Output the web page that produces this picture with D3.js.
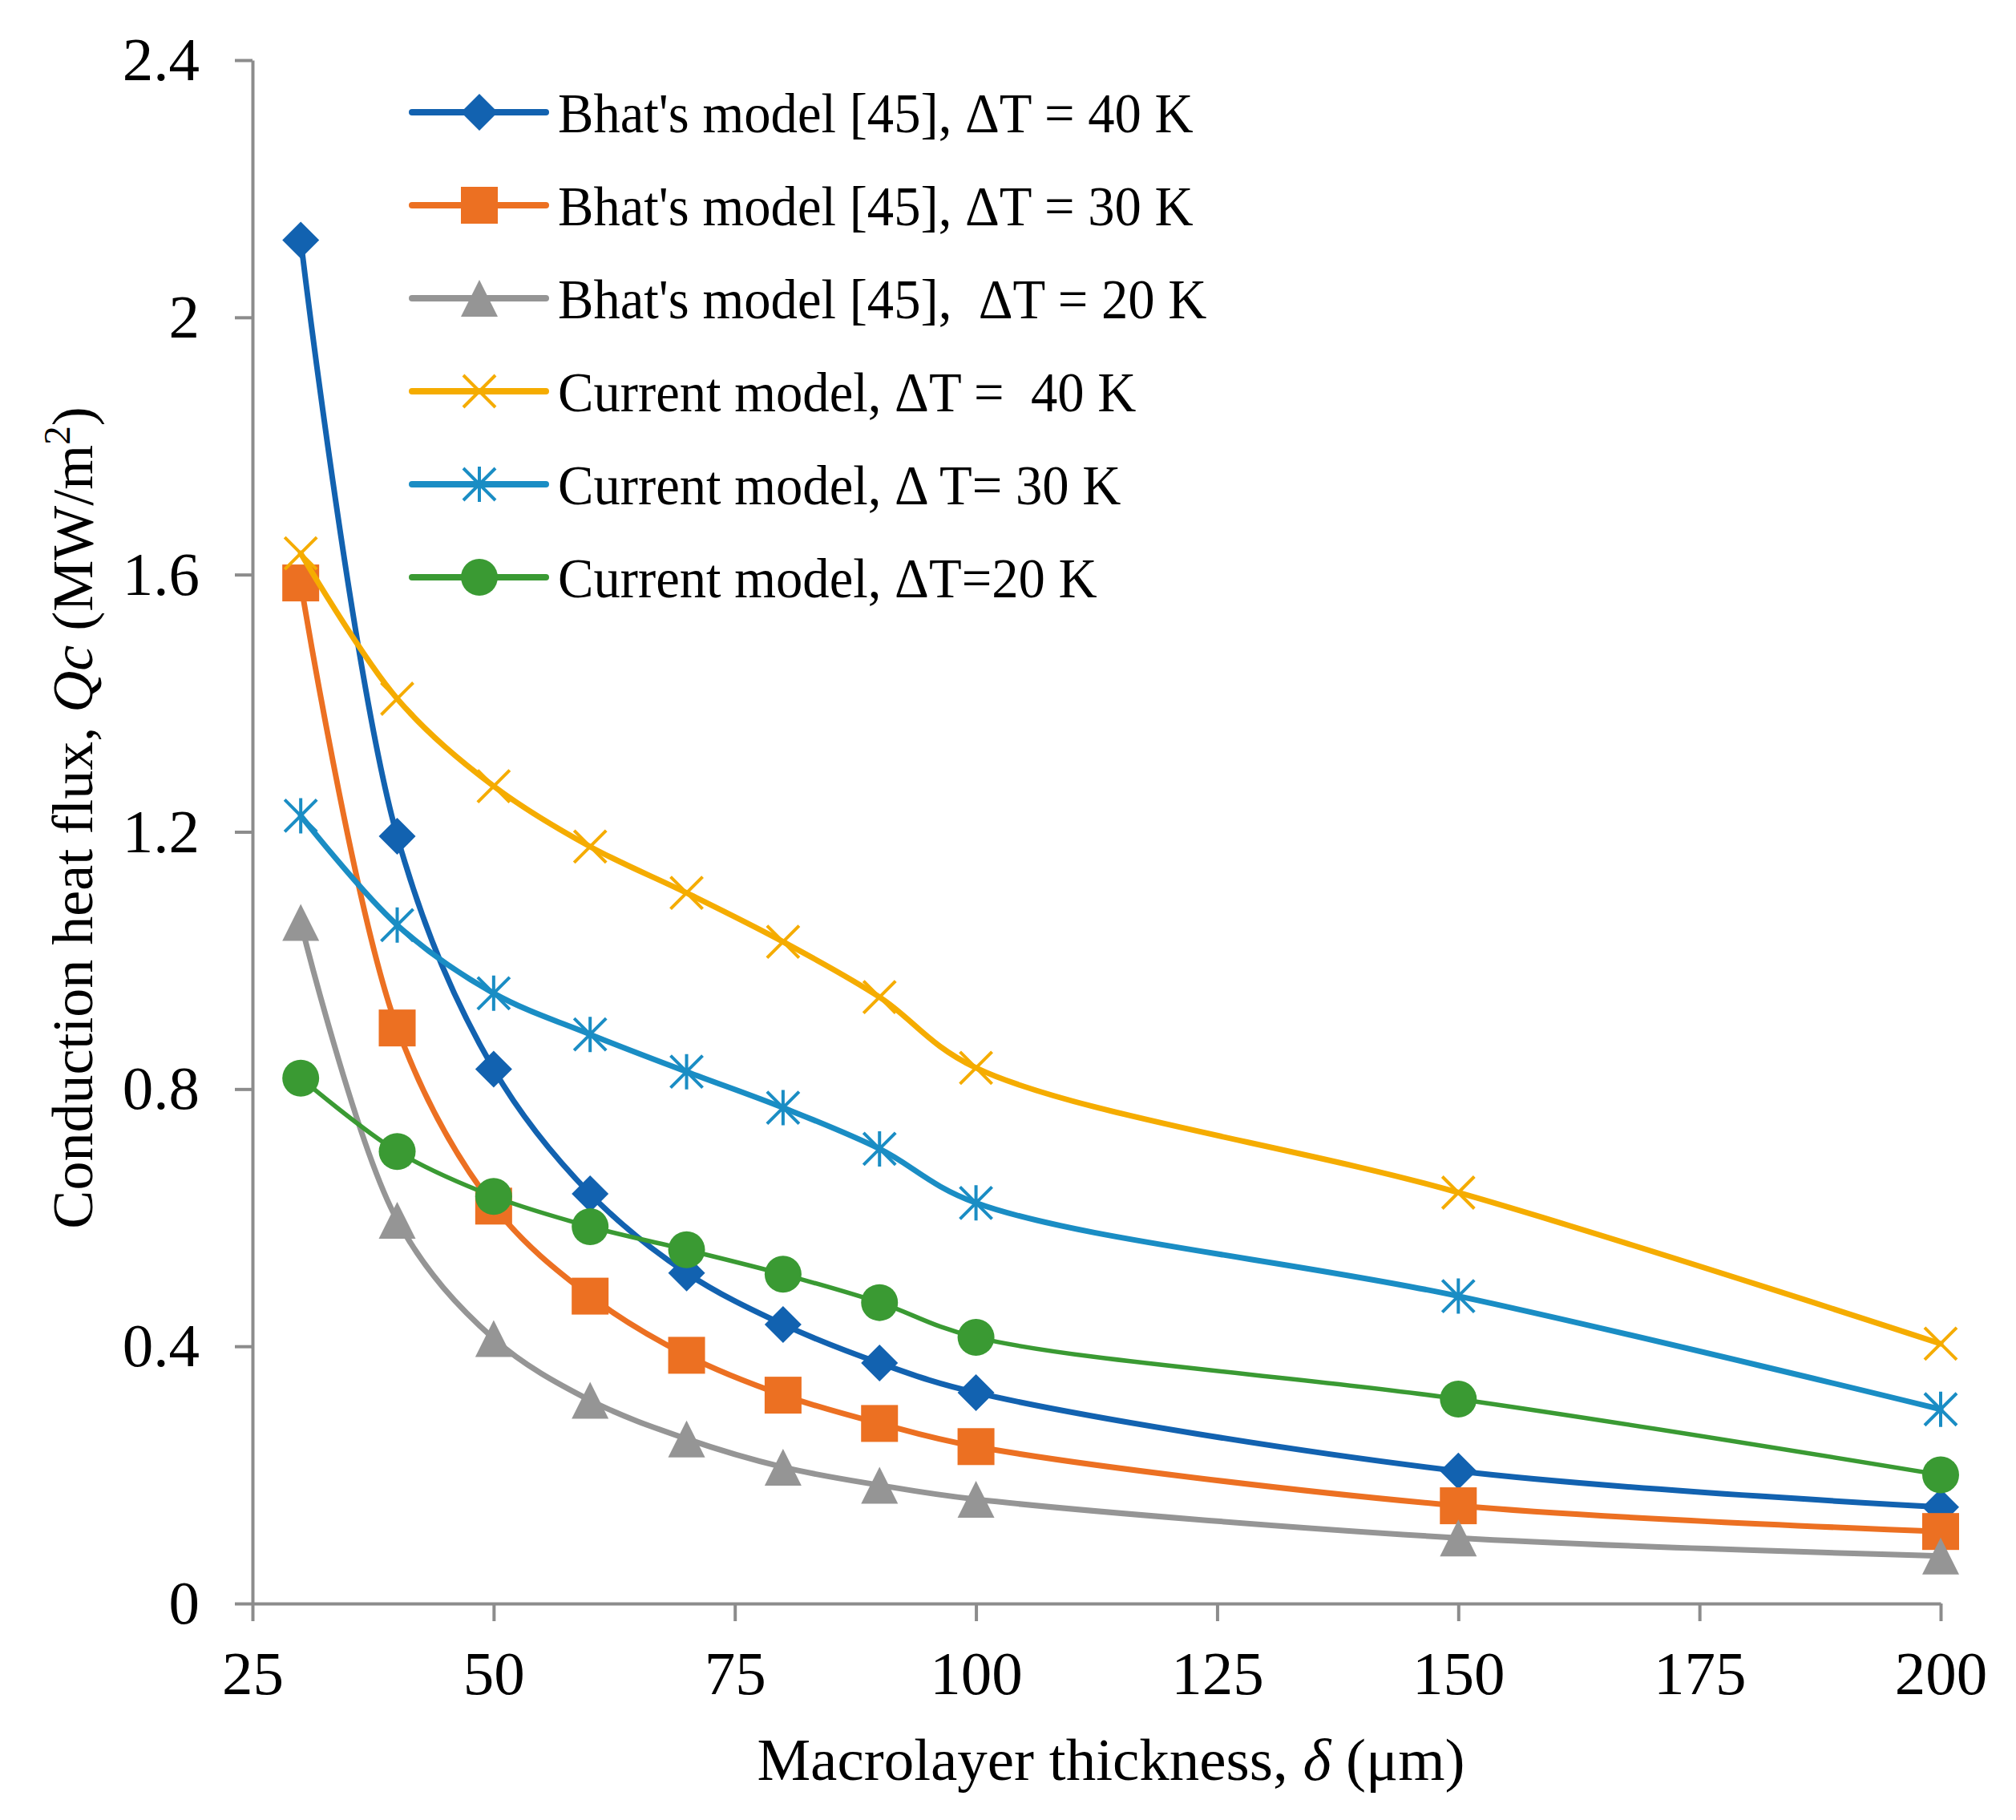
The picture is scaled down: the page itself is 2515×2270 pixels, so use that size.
<!DOCTYPE html>
<html>
<head>
<meta charset="utf-8">
<script src="https://cdn.jsdelivr.net/npm/d3@7"></script>
<style>
  body { margin: 0; background: #fff; }
  text { font-family: "Liberation Serif", "Times New Roman", serif; fill: #000; }
</style>
</head>
<body>
<div id="chart"></div>
<script>
// macrolayer thickness (um)
const thickness = [30, 40, 50, 60, 70, 80, 90, 100, 150, 200];

// conduction heat flux (MW/m2)
const bhat40 = [2.12, 1.193, 0.831, 0.637, 0.514, 0.434, 0.374, 0.328, 0.206, 0.150];
const bhat30 = [1.587, 0.895, 0.618, 0.478, 0.386, 0.324, 0.280, 0.244, 0.152, 0.112];
const bhat20 = [1.059, 0.596, 0.412, 0.316, 0.256, 0.212, 0.184, 0.162, 0.102, 0.074];
const curr40 = [1.633, 1.407, 1.271, 1.177, 1.105, 1.029, 0.943, 0.833, 0.639, 0.404];
const curr30 = [1.225, 1.055, 0.949, 0.885, 0.827, 0.771, 0.707, 0.623, 0.478, 0.302];
const curr20 = [0.817, 0.703, 0.633, 0.586, 0.550, 0.512, 0.468, 0.414, 0.318, 0.200];

const seriesNames = [
  "Bhat's model [45], \u0394T = 40 K",
  "Bhat's model [45], \u0394T = 30 K",
  "Bhat's model [45],  \u0394T = 20 K",
  "Current model, \u0394T =  40 K",
  "Current model, \u0394 T= 30 K",
  "Current model, \u0394T=20 K"
];
const seriesValues = [bhat40, bhat30, bhat20, curr40, curr30, curr20];
const seriesColors = ["#1262b0", "#ec7022", "#959595", "#f5ac00", "#1a8dc4", "#3a9a33"];
const seriesMarkers = ["diamond", "square", "triangle", "x", "asterisk", "circle"];
const seriesWidths = [7, 7, 7, 7, 7, 5.5];

const xTicks = [25, 50, 75, 100, 125, 150, 175, 200];
const yTicks = [0, 0.4, 0.8, 1.2, 1.6, 2, 2.4];

const width = 2515;
const height = 2270;
const margin = {left: 315, right: 94, top: 75, bottom: 270};

const svg = d3.select("#chart")
  .append("svg")
  .attr("width", width)
  .attr("height", height)
  .attr("viewBox", [0, 0, width, height]);

const x = d3.scaleLinear()
  .domain([25, 200])
  .range([margin.left, width - margin.right]);

const y = d3.scaleLinear()
  .domain([0, 2.4])
  .range([height - margin.bottom, margin.top]);

const axisColor = "#8c8c8c";

// axes
const xAxis = svg.append("g")
  .attr("transform", `translate(0,${y(0)})`)
  .call(d3.axisBottom(x).tickValues(xTicks).tickSize(22).tickSizeOuter(0).tickPadding(36));

const yAxis = svg.append("g")
  .attr("transform", `translate(${x(25)},0)`)
  .call(d3.axisLeft(y).tickValues(yTicks).tickSize(22).tickSizeOuter(0).tickPadding(44)
    .tickFormat(d => d3.format("")(+d.toFixed(1))));

[xAxis, yAxis].forEach(a => {
  a.select(".domain").attr("stroke", axisColor).attr("stroke-width", 4);
  a.selectAll(".tick line").attr("stroke", axisColor).attr("stroke-width", 4);
  a.selectAll(".tick text")
    .attr("font-family", "Liberation Serif")
    .attr("font-size", 77)
    .attr("fill", "#000");
});
xAxis.selectAll(".tick text").attr("dy", "0.71em");

// axis titles
const xTitle = svg.append("text")
  .attr("x", 1386)
  .attr("y", 2220)
  .attr("text-anchor", "middle")
  .attr("font-size", 75);
xTitle.append("tspan").text("Macrolayer thickness, ");
xTitle.append("tspan").attr("font-style", "italic").text("\u03b4");
xTitle.append("tspan").text(" (\u03bcm)");

const yTitle = svg.append("text")
  .attr("transform", `translate(115,1020) rotate(-90)`)
  .attr("text-anchor", "middle")
  .attr("font-size", 72);
yTitle.append("tspan").text("Conduction heat flux, ");
yTitle.append("tspan").attr("font-style", "italic").text("Qc");
yTitle.append("tspan").text(" (MW/m");
yTitle.append("tspan").attr("font-size", 47).attr("dy", -28).text("2");
yTitle.append("tspan").attr("dy", 28).text(")");

// markers
function drawMarker(g, type, color, cx, cy) {
  const r = 23;
  if (type === "diamond") {
    g.append("path")
      .attr("d", `M${cx},${cy - r}L${cx + r},${cy}L${cx},${cy + r}L${cx - r},${cy}Z`)
      .attr("fill", color);
  } else if (type === "square") {
    g.append("rect")
      .attr("x", cx - r).attr("y", cy - r)
      .attr("width", 2 * r).attr("height", 2 * r)
      .attr("fill", color);
  } else if (type === "triangle") {
    g.append("path")
      .attr("d", `M${cx},${cy - r}L${cx + r},${cy + r}L${cx - r},${cy + r}Z`)
      .attr("fill", color);
  } else if (type === "circle") {
    g.append("circle")
      .attr("cx", cx).attr("cy", cy).attr("r", r)
      .attr("fill", color);
  } else {
    const k = 20;
    let d = `M${cx - k},${cy - k}L${cx + k},${cy + k}M${cx - k},${cy + k}L${cx + k},${cy - k}`;
    if (type === "asterisk") d += `M${cx},${cy - k - 2}L${cx},${cy + k + 2}`;
    g.append("path")
      .attr("d", d)
      .attr("fill", "none")
      .attr("stroke", color)
      .attr("stroke-width", 4);
  }
}

const line = d3.line()
  .x(d => x(d[0]))
  .y(d => y(d[1]))
  .curve(d3.curveCatmullRom.alpha(0.5));

seriesValues.forEach((vals, i) => {
  const pts = thickness.map((t, j) => [t, vals[j]]);
  const g = svg.append("g");
  g.append("path")
    .attr("d", line(pts))
    .attr("fill", "none")
    .attr("stroke", seriesColors[i])
    .attr("stroke-width", seriesWidths[i])
    .attr("stroke-linejoin", "round")
    .attr("stroke-linecap", "round");
  pts.forEach(p => drawMarker(g, seriesMarkers[i], seriesColors[i], x(p[0]), y(p[1])));
});

// legend
const legend = svg.append("g");
seriesNames.forEach((name, i) => {
  const cy = 140 + i * 116;
  legend.append("line")
    .attr("x1", 514).attr("x2", 681)
    .attr("y1", cy).attr("y2", cy)
    .attr("stroke", seriesColors[i])
    .attr("stroke-width", 8)
    .attr("stroke-linecap", "round");
  drawMarker(legend, seriesMarkers[i], seriesColors[i], 598, cy);
  legend.append("text")
    .attr("transform", `translate(696,${cy + 25}) scale(0.98,1.03)`)
    .attr("font-size", 68)
    .style("white-space", "pre")
    .text(name);
});
</script>
</body>
</html>
